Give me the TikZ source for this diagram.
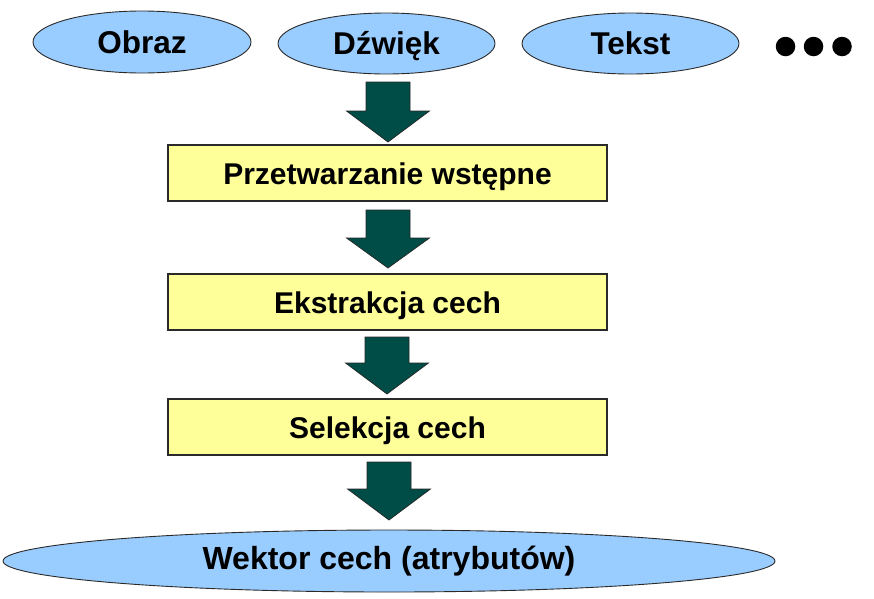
\documentclass[tikz,border=0pt]{standalone}
\usepackage{fontspec}
\setmainfont{Liberation Sans}
\usetikzlibrary{shapes.geometric}
\definecolor{ellblue}{HTML}{99CCFF}
\definecolor{boxyellow}{HTML}{FFFF99}
\definecolor{arrteal}{HTML}{004C46}
\definecolor{edgegray}{HTML}{2A2A2A}
\tikzset{
  oval/.style={ellipse, draw=edgegray, line width=0.9pt, fill=ellblue, inner sep=0pt,
    text height=22pt, text depth=0pt,
    font=\fontsize{31.5}{36}\selectfont\bfseries},
  stepbox/.style={rectangle, draw=edgegray, line width=1.1pt, fill=boxyellow, inner sep=0pt,
    text height=22pt, text depth=0pt,
    minimum width=439pt, minimum height=56pt, font=\fontsize{30}{34}\selectfont\bfseries},
  dot/.style={circle, fill=black, inner sep=0pt, minimum size=19.5pt},
  blockarrow/.style={fill=arrteal, draw=black!85, line width=0.7pt, line join=miter}
}
% #1 centre x, #2 top y, #3 head start y, #4 tip y
\newcommand{\blkarrow}[4]{%
  \draw[blockarrow] (#1-22,#2) -- (#1+22,#2) -- (#1+22,#3) -- (#1+41.5,#3) --
    (#1,#4) -- (#1-41.5,#3) -- (#1-22,#3) -- cycle;}
\begin{document}
\begin{tikzpicture}[x=1pt,y=-1pt]
\useasboundingbox (0,0) rectangle (874,598);
% top sources
\node[oval, minimum width=218pt, minimum height=62pt] (obraz) at (142,42) {Obraz};
\node[oval, minimum width=217pt, minimum height=61pt] (dzwiek) at (386.5,43.5) {Dźwięk};
\node[oval, minimum width=217pt, minimum height=61pt] (tekst) at (630.5,43.5) {Tekst};
\node[dot] (d1) at (785.5,46.5) {};
\node[dot] (d2) at (813.5,46.5) {};
\node[dot] (d3) at (842,46.5) {};
% steps
\node[stepbox] (prep) at (387.5,173) {Przetwarzanie wstępne};
\node[stepbox] (ekstr) at (387.5,302) {Ekstrakcja cech};
\node[stepbox] (selek) at (387.5,427) {Selekcja cech};
\node[oval, minimum width=772pt, minimum height=62pt, text height=22pt, text depth=5pt,
  font=\fontsize{32}{36}\selectfont\bfseries]
  (wektor) at (389,561) {Wektor cech (atrybutów)};
% block arrows between nodes
\blkarrow{388}{82}{111}{142}
\blkarrow{388}{210}{238}{268}
\blkarrow{387}{337}{363}{394}
\blkarrow{389}{462}{489}{520}
\end{tikzpicture}
\end{document}
